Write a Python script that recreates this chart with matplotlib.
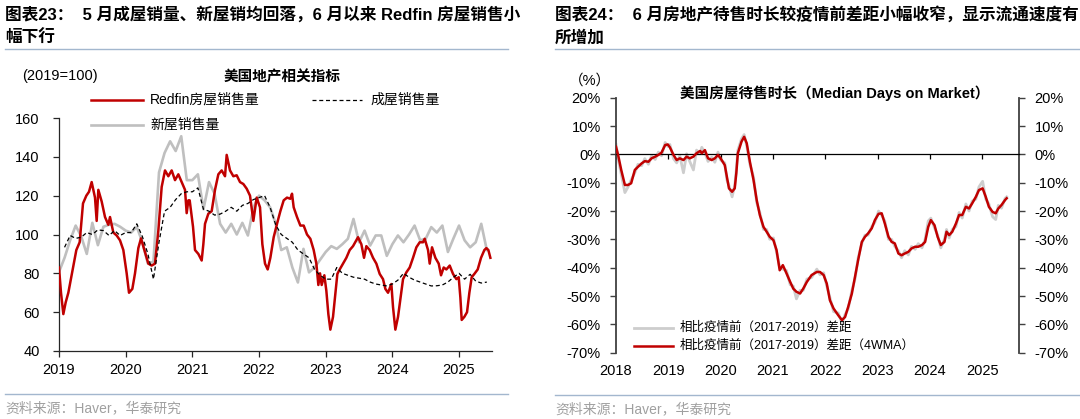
import matplotlib
matplotlib.use("Agg")
import matplotlib.pyplot as plt
from matplotlib.lines import Line2D
import matplotlib.transforms as mtransforms

plt.rcParams['font.family'] = ['Liberation Sans', 'Noto Sans CJK SC', 'DejaVu Sans']

# ---------------- data: left chart (2019=100) ----------------
redfin_t = [2019.00, 2019.03, 2019.065, 2019.10, 2019.14, 2019.21, 2019.26, 2019.31, 2019.36, 2019.41,
            2019.45, 2019.49, 2019.54, 2019.565, 2019.59, 2019.64, 2019.69, 2019.74, 2019.765, 2019.815,
            2019.865, 2019.915, 2019.965, 2020.015, 2020.05, 2020.10, 2020.14, 2020.19, 2020.23, 2020.28,
            2020.34, 2020.39, 2020.44, 2020.49, 2020.54, 2020.59, 2020.64, 2020.69, 2020.74, 2020.79,
            2020.84, 2020.89, 2020.915, 2020.94, 2020.96, 2021.01, 2021.04, 2021.09, 2021.14, 2021.165,
            2021.19, 2021.24, 2021.29, 2021.34, 2021.39, 2021.44, 2021.49, 2021.515, 2021.565, 2021.615,
            2021.665, 2021.715, 2021.765, 2021.815, 2021.865, 2021.915, 2021.965, 2022.015, 2022.05, 2022.09,
            2022.13, 2022.17, 2022.22, 2022.27, 2022.32, 2022.37, 2022.42, 2022.47, 2022.495, 2022.52,
            2022.57, 2022.62, 2022.67, 2022.72, 2022.77, 2022.82, 2022.86, 2022.89, 2022.915, 2022.94,
            2022.98, 2023.01, 2023.04, 2023.07, 2023.11, 2023.14, 2023.175, 2023.21, 2023.26, 2023.31,
            2023.36, 2023.41, 2023.46, 2023.485, 2023.535, 2023.575, 2023.61, 2023.66, 2023.71, 2023.76,
            2023.81, 2023.86, 2023.895, 2023.935, 2023.985, 2024.01, 2024.045, 2024.085, 2024.125, 2024.16,
            2024.21, 2024.26, 2024.31, 2024.36, 2024.41, 2024.46, 2024.485, 2024.535, 2024.56, 2024.595,
            2024.645, 2024.695, 2024.73, 2024.77, 2024.81, 2024.86, 2024.91, 2024.96, 2024.995, 2025.02,
            2025.04, 2025.08, 2025.12, 2025.155, 2025.19, 2025.23, 2025.28, 2025.33, 2025.38, 2025.41,
            2025.44, 2025.47]
redfin_v = [83, 70, 59, 65, 70, 83, 92, 96, 116, 120,
            122, 127, 119, 107, 123, 117, 109, 105, 109, 101,
            99.5, 97, 92, 80, 70, 72, 80, 93, 98, 92,
            85, 84, 85, 102, 124.5, 133, 130, 133, 128, 131,
            127, 123, 111, 117.6, 117.6, 104, 92, 90, 86.6, 95,
            105.5, 110.7, 112, 123, 131, 133, 130, 141, 133, 130,
            130.5, 127, 126, 123.6, 120, 107, 119, 114, 95, 85,
            82, 88, 98.6, 105.5, 112, 117.6, 119, 118.4, 121, 114,
            109, 104.6, 104.6, 100, 97.8, 92, 85, 74, 80, 74,
            79, 71, 59, 51, 57.6, 68, 79.7, 82, 85, 88,
            92, 94, 97, 98.6, 95, 88, 94, 92, 88, 85,
            79.7, 77, 72, 70, 74.5, 62.6, 51, 57.6, 68, 77,
            80.5, 83, 88, 93.4, 96, 96, 97.8, 92, 85, 93.4,
            88, 85, 79, 83, 82, 84, 79.7, 77, 78, 67.6,
            56, 57.6, 60, 70, 78, 79.7, 82, 88, 92, 93,
            92, 88]

# new home sales, monthly (Jan 2019 - Jun 2025)
new_home_v = [80.7, 88, 97, 104.6, 99, 90, 106, 94.5, 104, 105, 105.5, 104,
              102, 101, 104, 96, 85, 86, 132, 142, 148, 143, 150.6, 128,
              128, 131, 113, 127, 121, 105.5, 101, 105.5, 100, 106, 99.5, 114,
              120, 117.6, 114, 105.5, 92, 93.4, 83, 75.3, 92.6, 80.5, 83, 87,
              91, 94, 92.6, 95, 97.8, 108, 96, 102, 94.3, 99.5, 99.5, 89,
              95, 99.5, 96, 100, 104.6, 97, 97.8, 103.8, 101, 104.6, 91, 98,
              104.6, 97, 93.4, 96, 105.5, 92]
new_home_t = [2019 + i / 12 for i in range(len(new_home_v))]

# existing home sales, monthly (Jan 2019 - May 2025), plotted at month end
existing_v = [93.4, 99.5, 98, 98.6, 101, 100, 102.4, 102, 99.5, 102, 99.5, 101,
              101, 105.5, 99, 90, 77, 96, 112, 114, 118, 121, 122, 122,
              124, 113, 112, 110, 110.5, 112, 114, 112, 115, 116, 118, 119,
              120, 114, 105, 100, 98, 96, 92, 90, 88, 82, 79, 77,
              77, 83, 80, 79, 78, 77.5, 77, 75.5, 74.5, 74, 73.5, 74.5,
              76.5, 80, 78, 76.5, 75.5, 74.5, 73.5, 73.6, 74, 75.5, 78, 80,
              77, 79.5, 76, 75, 75.5]
existing_t = [2019 + (i + 1) / 12 for i in range(len(existing_v))]

left_yticks = [40, 60, 80, 100, 120, 140, 160]
left_years = [2019, 2020, 2021, 2022, 2023, 2024, 2025]

# ---------------- data: right chart (%) ----------------
dom_t = [2018.00, 2018.04, 2018.10, 2018.17, 2018.23, 2018.29, 2018.36, 2018.42, 2018.49, 2018.55,
         2018.62, 2018.68, 2018.75, 2018.81, 2018.87, 2018.94, 2018.99, 2019.03, 2019.10, 2019.16,
         2019.22, 2019.29, 2019.35, 2019.41, 2019.48, 2019.54, 2019.61, 2019.64, 2019.70, 2019.76,
         2019.83, 2019.89, 2019.95, 2020.00, 2020.08, 2020.12, 2020.16, 2020.22, 2020.27, 2020.30,
         2020.33, 2020.40, 2020.45, 2020.50, 2020.56, 2020.63, 2020.69, 2020.75, 2020.82, 2020.88,
         2020.94, 2021.01, 2021.07, 2021.13, 2021.19, 2021.26, 2021.33, 2021.39, 2021.45, 2021.52,
         2021.58, 2021.65, 2021.74, 2021.84, 2021.90, 2021.97, 2022.03, 2022.09, 2022.16, 2022.25,
         2022.32, 2022.38, 2022.44, 2022.51, 2022.57, 2022.63, 2022.70, 2022.76, 2022.82, 2022.89,
         2022.95, 2023.02, 2023.08, 2023.14, 2023.21, 2023.27, 2023.33, 2023.40, 2023.46, 2023.52,
         2023.59, 2023.65, 2023.72, 2023.78, 2023.85, 2023.91, 2023.97, 2024.02, 2024.09, 2024.15,
         2024.21, 2024.28, 2024.32, 2024.37, 2024.43, 2024.50, 2024.56, 2024.62, 2024.69, 2024.75,
         2024.81, 2024.88, 2024.94, 2025.01, 2025.07, 2025.13, 2025.20, 2025.26, 2025.31, 2025.37,
         2025.44, 2025.47]
dom_4wma = [2.7, -0.2, -5.5, -10.8, -10.8, -10.2, -5.5, -4.4, -3.2, -2.4,
            -2.6, -1.4, -0.8, -0.2, 0.6, 3.3, 3.5, 2.5, -0.2, -2.0,
            -1.4, -2.0, -0.8, -1.4, -0.8, 0.4, 1.2, 0.4, 1.5, -1.4,
            -2.0, -1.4, -0.2, -1.4, -3.8, -7.9, -12.0, -13.2, -12.0, -6.7,
            0.4, 4.5, 6.2, 3.9, -2.6, -9.1, -16.1, -21.4, -25.6, -27.3,
            -29.1, -30.3, -33.8, -40.9, -39.1, -42.0, -45.0, -47.4, -48.5, -49.1,
            -47.4, -45.0, -42.6, -41.5, -41.5, -42.6, -45.6, -51.5, -54.4, -56.8,
            -58.5, -57.4, -53.8, -49.1, -43.2, -37.3, -30.9, -29.1, -27.9, -26.1,
            -23.2, -21.0, -20.8, -24.4, -29.1, -30.9, -31.4, -35.0, -35.6, -35.0,
            -34.4, -33.2, -32.6, -32.6, -32.0, -30.9, -25.6, -23.2, -25.0, -29.1,
            -32.0, -30.9, -27.3, -28.5, -27.3, -24.4, -21.4, -21.4, -18.5, -19.1,
            -17.3, -15.0, -12.6, -12.0, -15.0, -18.5, -20.3, -20.8, -19.1, -17.9,
            -16.1, -15.5]
dom_raw = [3.5, -1.5, -7.0, -13.5, -11.5, -9.0, -6.5, -3.5, -4.0, -1.5,
           -3.5, -0.5, -1.8, 0.8, -0.5, 4.2, 2.8, 3.5, -1.5, -3.0,
           -0.5, -6.5, 0.2, -2.5, -5.5, 1.5, 0.2, 2.5, 0.5, -2.5,
           -1.0, -2.8, 0.8, -2.0, -3.0, -9.0, -11.0, -15.0, -11.0, -5.5,
           1.5, 5.5, 7.0, 3.0, -3.5, -8.0, -17.0, -20.5, -26.5, -26.5,
           -30.0, -29.5, -34.5, -40.0, -40.5, -41.0, -46.0, -46.5, -51.0, -48.0,
           -48.0, -44.0, -43.5, -40.5, -42.5, -41.8, -46.5, -50.5, -55.5, -56.0,
           -59.5, -56.5, -54.5, -48.0, -44.0, -36.5, -31.5, -28.5, -28.5, -25.5,
           -24.0, -20.0, -21.5, -23.5, -30.0, -30.0, -32.5, -34.0, -36.5, -34.0,
           -35.5, -32.5, -33.5, -31.5, -33.0, -30.0, -23.5, -22.5, -26.0, -28.5,
           -33.0, -30.0, -26.5, -29.5, -26.5, -25.5, -20.5, -22.5, -17.5, -20.0,
           -16.5, -15.8, -11.5, -9.5, -15.8, -17.5, -22.0, -23.0, -18.0, -19.0,
           -15.5, -15.0]
right_yticks = [20, 10, 0, -10, -20, -30, -40, -50, -60, -70]
right_years = [2018, 2019, 2020, 2021, 2022, 2023, 2024, 2025]

# ---------------- figure ----------------
W, H = 1080, 419
fig = plt.figure(figsize=(W / 100, H / 100), dpi=100)

def fx(px):
    return px / W

def fy(py):
    return 1 - py / H

RED = '#C00000'
GREY = '#BFBFBF'
SEP = '#A3B7CE'
CJK = ['Liberation Sans', 'Noto Sans CJK SC']

# titles
fig.text(fx(5), fy(14), '图表23：  5 月成屋销量、新屋销均回落，6 月以来 Redfin 房屋销售小',
         fontsize=12, fontweight='bold', family=CJK, va='center', ha='left')
fig.text(fx(5), fy(37.5), '幅下行', fontsize=12, fontweight='bold', family=CJK, va='center', ha='left')
fig.text(fx(555), fy(14), '图表24：  6 月房地产待售时长较疫情前差距小幅收窄，显示流通速度有',
         fontsize=12, fontweight='bold', family=CJK, va='center', ha='left')
fig.text(fx(555), fy(37.5), '所增加', fontsize=12, fontweight='bold', family=CJK, va='center', ha='left')

for x0, x1 in [(5, 508), (555, 1080)]:
    fig.add_artist(Line2D([fx(x0), fx(x1)], [fy(49.5), fy(49.5)], color=SEP, lw=1.0))
for x0, x1, yy in [(5, 508, 394), (555, 1080, 395)]:
    fig.add_artist(Line2D([fx(x0), fx(x1)], [fy(yy), fy(yy)], color=SEP, lw=1.0))

fig.text(fx(5), fy(408), '资料来源：Haver，华泰研究', fontsize=10, color='#A0A0A0', family=CJK,
         va='center', ha='left')
fig.text(fx(555), fy(409), '资料来源：Haver，华泰研究', fontsize=10, color='#A0A0A0', family=CJK,
         va='center', ha='left')

# ---------------- left chart ----------------
axL = fig.add_axes([fx(59), fy(351), fx(491.7) - fx(59), fy(118) - fy(351)])
axL.plot(new_home_t, new_home_v, color=GREY, lw=1.9, zorder=2)
axL.plot(redfin_t, redfin_v, color=RED, lw=1.8, zorder=3)
axL.plot(existing_t, existing_v, color='black', lw=0.9, ls=(0, (3.2, 2.2)), zorder=4)
axL.set_xlim(2019, 2025.49)
axL.set_ylim(40, 160)
axL.set_yticks(left_yticks)
axL.set_xticks(left_years)
axL.set_xticklabels([str(y) for y in left_years])
for s in ['top', 'right']:
    axL.spines[s].set_visible(False)
for s in ['left', 'bottom']:
    axL.spines[s].set_color('#262626')
    axL.spines[s].set_linewidth(0.9)
axL.tick_params(axis='y', direction='out', length=4, width=0.9, pad=10, labelsize=10.5, color='#262626')
axL.tick_params(axis='x', direction='out', length=4, width=0.9, pad=5, labelsize=10.5, color='#262626')
axL.patch.set_alpha(0)

fig.text(fx(22), fy(76), '(2019=100)', fontsize=10.5, va='center', ha='left')
fig.text(fx(282), fy(77), '美国地产相关指标', fontsize=10.5, fontweight='bold', family=CJK,
         va='center', ha='center')
fig.add_artist(Line2D([fx(91), fx(143)], [fy(100), fy(100)], color=RED, lw=1.8))
fig.text(fx(150), fy(100), 'Redfin房屋销售量', fontsize=10, family=CJK, va='center', ha='left')
fig.add_artist(Line2D([fx(312), fx(362)], [fy(100), fy(100)], color='black', lw=0.9, ls=(0, (3.2, 2.2))))
fig.text(fx(370), fy(100), '成屋销售量', fontsize=10, family=CJK, va='center', ha='left')
fig.add_artist(Line2D([fx(91), fx(143)], [fy(125), fy(125)], color=GREY, lw=1.9))
fig.text(fx(150), fy(125), '新屋销售量', fontsize=10, family=CJK, va='center', ha='left')

# ---------------- right chart ----------------
axR = fig.add_axes([fx(616), fy(352.7), fx(1019.3) - fx(616), fy(97.7) - fy(352.7)])
axR.plot(dom_t, dom_raw, color='#CDCDCD', lw=2.0, zorder=2)
axR.plot(dom_t, dom_4wma, color=RED, lw=1.8, zorder=3)
axR.set_xlim(2018, 2018 + (1019.3 - 616) / 52.3)
axR.set_ylim(-70, 20)
axR.set_yticks(right_yticks)
axR.set_yticklabels([f'{v}%' for v in right_yticks])
axR.spines['top'].set_visible(False)
axR.spines['bottom'].set_position(('data', 0))
axR.spines['bottom'].set_color('black')
axR.spines['bottom'].set_linewidth(0.9)
axR.set_xticks(right_years)
axR.tick_params(axis='x', direction='out', length=3.5, width=0.9, labelbottom=False, color='black')
for s in ['left', 'right']:
    axR.spines[s].set_color('#404040')
    axR.spines[s].set_linewidth(1.3)
axR.tick_params(axis='y', direction='out', length=4, width=1.0, pad=7, labelsize=10.5,
                color='#404040', left=True, right=True, labelleft=True, labelright=True)
axR.patch.set_alpha(0)
trans = mtransforms.blended_transform_factory(axR.transData, axR.transAxes)
for yr in right_years:
    axR.text(yr, (352.7 - 370.7) / 255.0, str(yr), transform=trans, ha='center', va='center',
             fontsize=10.5)

fig.text(fx(590), fy(81), '（%）', fontsize=10.5, family=CJK, va='center', ha='center')
fig.text(fx(835), fy(93), '美国房屋待售时长（Median Days on Market）', fontsize=10.5,
         fontweight='bold', family=CJK, va='center', ha='center')
fig.add_artist(Line2D([fx(634), fx(673)], [fy(327.5), fy(327.5)], color='#CDCDCD', lw=2.0))
fig.text(fx(680), fy(327.5), '相比疫情前（2017-2019）差距', fontsize=9, family=CJK,
         va='center', ha='left')
fig.add_artist(Line2D([fx(634), fx(673)], [fy(345.5), fy(345.5)], color=RED, lw=1.8))
fig.text(fx(680), fy(345.5), '相比疫情前（2017-2019）差距（4WMA）', fontsize=9, family=CJK,
         va='center', ha='left')

fig.savefig('out.png', dpi=100)
